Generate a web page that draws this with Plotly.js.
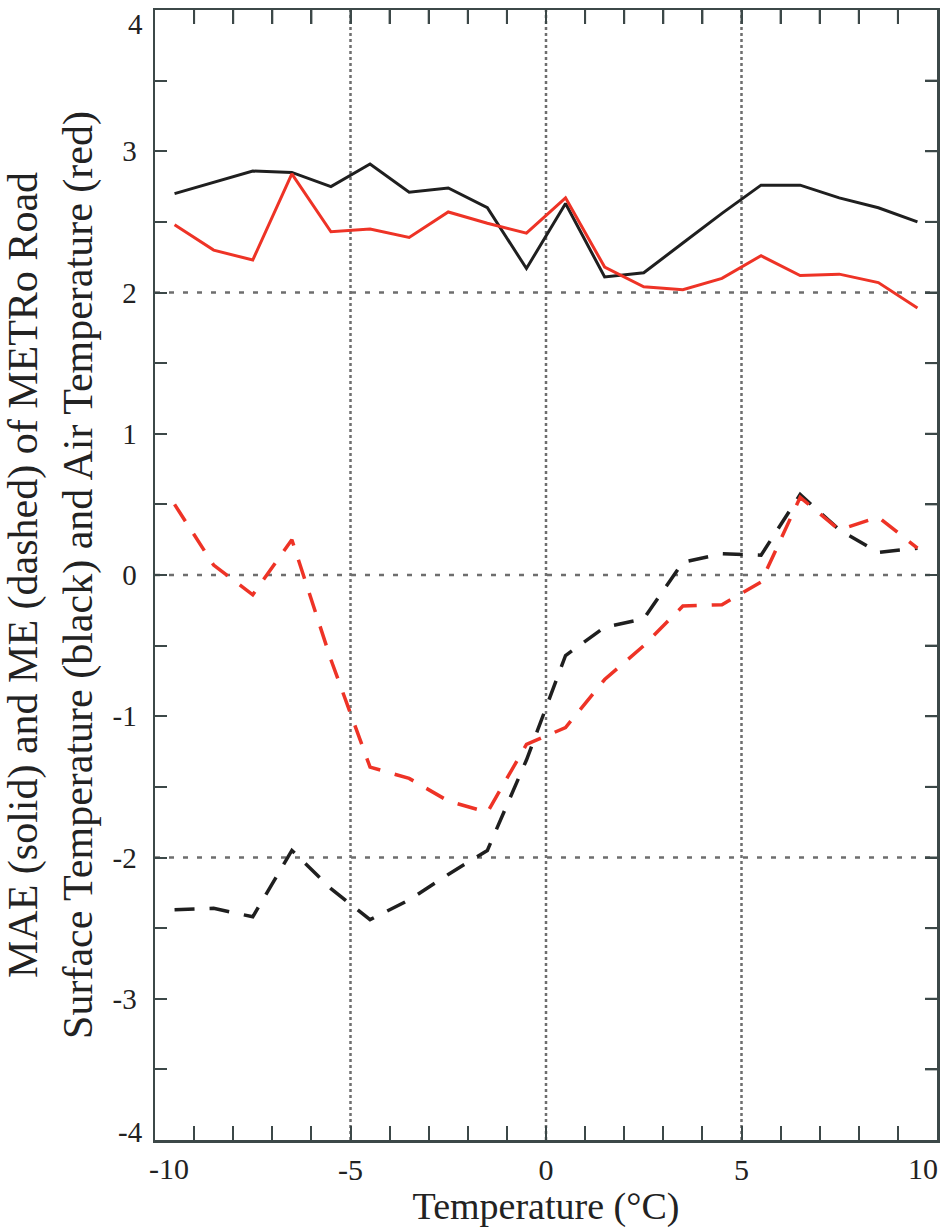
<!DOCTYPE html>
<html>
<head>
<meta charset="utf-8">
<script src="https://cdn.plot.ly/plotly-3.0.1.min.js"></script>
<style>
  html, body { margin: 0; padding: 0; background: #ffffff; }
  #chart { width: 943px; height: 1230px; }
</style>
</head>
<body>
<div id="chart"></div>
<script>
// Temperature bins (°C)
const temperature = [-9.5, -8.5, -7.5, -6.5, -5.5, -4.5, -3.5, -2.5, -1.5, -0.5,
                      0.5,  1.5,  2.5,  3.5,  4.5,  5.5,  6.5,  7.5,  8.5,  9.5];

// MAE (solid) – road surface temperature (black)
const maeRoad = [2.70, 2.78, 2.86, 2.85, 2.75, 2.91, 2.71, 2.74, 2.60, 2.17,
                 2.63, 2.11, 2.14, 2.35, 2.56, 2.76, 2.76, 2.67, 2.60, 2.50];

// MAE (solid) – air temperature (red)
const maeAir = [2.48, 2.30, 2.23, 2.84, 2.43, 2.45, 2.39, 2.57, 2.49, 2.42,
                2.67, 2.18, 2.04, 2.02, 2.10, 2.26, 2.12, 2.13, 2.07, 1.89];

// ME (dashed) – road surface temperature (black)
const meRoad = [-2.37, -2.36, -2.42, -1.95, -2.22, -2.44, -2.30, -2.12, -1.95, -1.31,
                -0.57, -0.37, -0.31,  0.09,  0.15,  0.14,  0.57,  0.32,  0.16,  0.19];

// ME (dashed) – air temperature (red)
const meAir = [0.50, 0.07, -0.14, 0.25, -0.60, -1.36, -1.44, -1.60, -1.68, -1.20,
               -1.08, -0.74, -0.50, -0.22, -0.21, -0.05, 0.55, 0.32, 0.41, 0.19];

// Axis ticks (every tick drawn on all four sides), tick labels
const xTickVals = [-10, -9, -8, -7, -6, -5, -4, -3, -2, -1, 0, 1, 2, 3, 4, 5, 6, 7, 8, 9, 10];
const xTickText = ['', '', '', '', '', '-5', '', '', '', '', '0', '', '', '', '', '5', '', '', '', '', ''];
const yTickVals = [-4, -3.5, -3, -2.5, -2, -1.5, -1, -0.5, 0, 0.5, 1, 1.5, 2, 2.5, 3, 3.5, 4];
const yTickText = ['', '', '-3', '', '-2', '', '-1', '', '0', '', '1', '', '2', '', '3', '', ''];
// end labels, drawn pulled inward from the corners as in the reference
const xEndVals = [-10, 10];
const xEndText = ['-10', '10'];
const yEndVals = [-4, 4];
const yEndText = ['-4', '4'];
// reference grid positions
const xGrid = [-5, 0, 5];
const yGrid = [-2, 0, 2];

const xRange = [-10, 10];
const yRange = [-4, 4];

const BLACK = '#1f1f1f';
const RED = '#ee3326';
const FRAME = '#3c4848';
const GRID = '#6e6e6e';
const TXT = '#222222';
const FONT = '"Liberation Serif", "DejaVu Serif", serif';

const W = 943, H = 1230;
const M = { l: 155, r: 6, t: 10, b: 90 };
const plotW = W - M.l - M.r, plotH = H - M.t - M.b;
const XTICKLEN = 14, YTICKLEN = 12;
// tick lengths expressed in axis units (for the mirrored top / right ticks)
const xTickLenUnits = YTICKLEN * (xRange[1] - xRange[0]) / plotW;
const yTickLenUnits = XTICKLEN * (yRange[1] - yRange[0]) / plotH;

const traces = [
  { x: temperature, y: maeRoad, mode: 'lines', name: 'MAE road',
    line: { color: BLACK, width: 3 } },
  { x: temperature, y: maeAir, mode: 'lines', name: 'MAE air',
    line: { color: RED, width: 3 } },
  { x: temperature, y: meRoad, mode: 'lines', name: 'ME road',
    line: { color: BLACK, width: 3.5, dash: '20px,15px' } },
  { x: temperature, y: meAir, mode: 'lines', name: 'ME air',
    line: { color: RED, width: 3.5, dash: '20px,15px' } }
];

const shapes = [];
xGrid.forEach(v => shapes.push({
  type: 'line', xref: 'x', yref: 'y', x0: v, x1: v, y0: yRange[0], y1: yRange[1],
  layer: 'below', line: { color: GRID, width: 2.5, dash: 'dot' }
}));
yGrid.forEach(v => shapes.push({
  type: 'line', xref: 'x', yref: 'y', x0: xRange[0], x1: xRange[1], y0: v, y1: v,
  layer: 'below', line: { color: GRID, width: 2.5, dash: '5px,9px' }
}));
// mirrored inside ticks on the top and right frame edges
xTickVals.slice(1, -1).forEach(v => shapes.push({
  type: 'line', xref: 'x', yref: 'y', x0: v, x1: v,
  y0: yRange[1], y1: yRange[1] - yTickLenUnits,
  layer: 'above', line: { color: FRAME, width: 2 }
}));
yTickVals.slice(1, -1).forEach(v => shapes.push({
  type: 'line', xref: 'x', yref: 'y', y0: v, y1: v,
  x0: xRange[1], x1: xRange[1] - xTickLenUnits,
  layer: 'above', line: { color: FRAME, width: 2 }
}));

const xTickFont = { family: FONT, size: 30, color: TXT };
const yTickFont = { family: FONT, size: 29, color: TXT };

const annotations = [];
xEndVals.forEach((v, i) => annotations.push({
  xref: 'x', yref: 'paper', x: v, y: 0, text: xEndText[i], showarrow: false,
  xanchor: 'center', yanchor: 'middle', xshift: i === 0 ? 14 : -14, yshift: -28,
  font: xTickFont
}));
yEndVals.forEach((v, i) => annotations.push({
  xref: 'paper', yref: 'y', x: 0, y: v, text: yEndText[i], showarrow: false,
  xanchor: 'right', yanchor: 'middle', xshift: -10, yshift: i === 0 ? 8 : -14,
  font: yTickFont
}));

const layout = {
  width: W, height: H,
  margin: M,
  paper_bgcolor: '#ffffff', plot_bgcolor: '#ffffff',
  showlegend: false,
  font: { family: FONT, color: TXT },
  shapes: shapes,
  annotations: annotations,
  xaxis: {
    range: xRange,
    tickmode: 'array', tickvals: xTickVals, ticktext: xTickText,
    ticks: 'inside', ticklen: XTICKLEN, tickwidth: 2, tickcolor: FRAME,
    showline: true, linecolor: FRAME, linewidth: 2.5, mirror: 'allticks',
    showgrid: false, zeroline: false,
    tickfont: xTickFont,
    ticklabelstandoff: 1,
    title: { text: 'Temperature (°C)', font: { family: FONT, size: 38, color: TXT }, standoff: 2 }
  },
  yaxis: {
    range: yRange,
    tickmode: 'array', tickvals: yTickVals, ticktext: yTickText,
    ticks: 'inside', ticklen: YTICKLEN, tickwidth: 2, tickcolor: FRAME,
    showline: true, linecolor: FRAME, linewidth: 2.5, mirror: 'allticks',
    showgrid: false, zeroline: false,
    tickfont: yTickFont,
    ticklabelstandoff: 10,
    title: {
      text: 'MAE (solid) and ME (dashed) of METRo Road<br>Surface Temperature (black) and Air Temperature (red)',
      font: { family: FONT, size: 42, color: TXT },
      standoff: 8
    }
  }
};

Plotly.newPlot('chart', traces, layout, { displayModeBar: false, staticPlot: true });
</script>
</body>
</html>
